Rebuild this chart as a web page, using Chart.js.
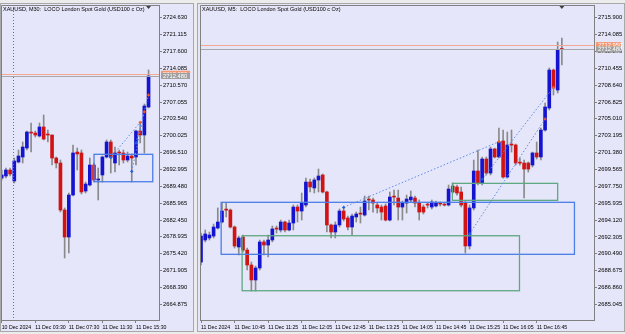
<!DOCTYPE html>
<html>
<head>
<meta charset="utf-8">
<script src="https://cdn.jsdelivr.net/npm/chart.js@4.4.1/dist/chart.umd.min.js"></script>
<style>
  body { margin: 0; background: #ececec; width: 625px; height: 334px; overflow: hidden; }
  canvas { position: absolute; top: 0; }
  #m30 { left: 0; }
  #m5 { left: 197px; }
</style>
</head>
<body>
<canvas id="m30" width="194" height="334"></canvas>
<canvas id="m5" width="428" height="334"></canvas>
<script>
// ---- XAUUSD M30 (left window) ----
const m30TickBars = [0, 8, 16, 24, 32];
const m30TickLabels = ['10 Dec 2024', '11 Dec 03:30', '11 Dec 07:30', '11 Dec 11:30', '11 Dec 15:30'];
const m30PriceTicks = [2724.630, 2721.115, 2717.600, 2714.085, 2710.570, 2707.055, 2703.540, 2700.025,
  2696.510, 2692.995, 2689.480, 2685.965, 2682.450, 2678.935, 2675.420, 2671.905, 2668.390, 2664.875];
const m30Open = [2691.21, 2691.63, 2692.88, 2690.59, 2694.55, 2695.59, 2697.47, 2700.59, 2700.59, 2699.97,
  2701.85, 2700.18, 2700.18, 2695.38, 2694.34, 2684.54, 2678.91, 2687.67, 2696.63, 2696.43,
  2688.50, 2689.75, 2693.92, 2690.80, 2691.84, 2695.59, 2698.72, 2694.34, 2696.43, 2696.43,
  2694.97, 2695.80, 2695.59, 2701.01, 2700.18, 2706.01];
const m30High = [2692.88, 2693.30, 2693.30, 2695.38, 2697.05, 2698.72, 2701.01, 2702.68, 2701.01, 2702.68,
  2704.35, 2701.22, 2700.18, 2695.59, 2694.97, 2684.96, 2688.09, 2698.09, 2697.47, 2697.05,
  2690.38, 2695.38, 2694.34, 2693.30, 2695.80, 2699.14, 2699.14, 2697.68, 2697.05, 2697.05,
  2696.63, 2696.22, 2701.22, 2702.68, 2706.64, 2713.73];
const m30Low = [2690.80, 2691.21, 2691.63, 2690.17, 2694.34, 2694.34, 2697.05, 2696.63, 2699.76, 2699.76,
  2699.14, 2698.72, 2693.92, 2693.30, 2684.13, 2674.54, 2675.58, 2687.46, 2692.88, 2687.88,
  2688.09, 2689.55, 2690.38, 2686.63, 2690.38, 2695.38, 2692.26, 2692.47, 2693.92, 2694.34,
  2694.55, 2690.38, 2693.92, 2698.51, 2696.43, 2705.81];
const m30Close = [2691.84, 2692.88, 2692.05, 2694.76, 2695.80, 2697.68, 2700.80, 2700.58, 2700.18, 2701.85,
  2699.34, 2700.17, 2695.38, 2694.34, 2684.54, 2678.91, 2687.67, 2696.43, 2696.22, 2688.30,
  2689.96, 2693.92, 2690.80, 2691.01, 2695.59, 2698.72, 2695.59, 2696.43, 2696.42, 2694.97,
  2695.80, 2695.38, 2701.01, 2700.18, 2706.22, 2712.48];
// rectangle objects: [fromBar, toBar, upperPrice, lowerPrice]
const m30Boxes = [[22, 36, 2696.15, 2690.44]];
// trades: [openBar, openPrice, closeBar, closePrice]
const m30Trades = [[26, 2695.49, 33, 2702.82], [32, 2698.50, 35, 2708.52], [31, 2692.60, 34, 2705.03]];
const m30DaySeparators = [2.75];

// ---- XAUUSD M5 (right window) ----
const m5TickBars = [0, 8, 16, 24, 32, 40, 48, 56, 64, 72, 80];
const m5TickLabels = ['11 Dec 2024', '11 Dec 10:45', '11 Dec 11:25', '11 Dec 12:05', '11 Dec 12:45', '11 Dec 13:25',
  '11 Dec 14:05', '11 Dec 14:45', '11 Dec 15:25', '11 Dec 16:05', '11 Dec 16:45'];
const m5PriceTicks = [2715.900, 2714.085, 2712.270, 2710.455, 2708.640, 2706.825, 2705.010, 2703.195, 2701.380,
  2699.565, 2697.750, 2695.935, 2694.120, 2692.305, 2690.490, 2688.675, 2686.860, 2685.045];
const m5Open = [2689.60, 2691.97, 2692.19, 2692.40, 2693.26, 2693.91, 2695.20, 2695.20, 2693.37, 2691.22,
  2692.29, 2690.89, 2689.28, 2687.67, 2688.96, 2691.76, 2691.43, 2691.97, 2693.16, 2693.05,
  2693.91, 2693.05, 2693.80, 2695.52, 2695.09, 2695.74, 2698.21, 2697.57, 2698.43, 2698.97,
  2697.14, 2693.59, 2692.83, 2693.59, 2695.09, 2694.34, 2693.37, 2694.45, 2694.77, 2694.66,
  2696.28, 2696.28, 2695.74, 2695.52, 2695.63, 2694.12, 2696.60, 2696.49, 2695.52, 2695.95,
  2696.28, 2696.49, 2695.95, 2695.52, 2695.74, 2695.52, 2695.63, 2695.85, 2695.74, 2695.74,
  2697.78, 2697.68, 2697.14, 2695.95, 2691.33, 2695.42, 2699.40, 2698.11, 2700.69, 2699.18,
  2701.77, 2700.91, 2702.63, 2698.75, 2702.20, 2702.20, 2700.26, 2700.26, 2700.26, 2700.04,
  2701.34, 2700.91, 2703.81, 2706.18, 2710.27, 2708.12, 2712.58];
const m5High = [2692.72, 2693.05, 2692.83, 2693.69, 2695.42, 2695.95, 2695.95, 2695.31, 2693.48, 2692.40,
  2692.51, 2691.11, 2689.60, 2689.17, 2691.97, 2691.97, 2692.51, 2693.48, 2693.48, 2694.12,
  2694.02, 2694.12, 2695.74, 2695.74, 2697.03, 2698.64, 2698.54, 2698.64, 2699.61, 2699.08,
  2697.25, 2693.69, 2693.91, 2695.31, 2695.52, 2694.55, 2694.77, 2694.98, 2695.52, 2696.71,
  2696.71, 2696.49, 2695.95, 2695.74, 2695.85, 2697.14, 2697.35, 2697.35, 2696.17, 2696.81,
  2697.25, 2696.71, 2696.28, 2695.74, 2695.95, 2696.28, 2696.17, 2696.06, 2695.95, 2697.89,
  2698.11, 2697.89, 2697.68, 2696.17, 2695.74, 2700.58, 2701.66, 2700.91, 2700.91, 2701.98,
  2701.87, 2704.03, 2703.81, 2703.60, 2703.81, 2702.30, 2700.80, 2700.58, 2700.37, 2701.44,
  2702.52, 2704.03, 2706.72, 2710.49, 2710.38, 2713.29, 2713.72];
const m5Low = [2689.28, 2691.76, 2691.97, 2692.19, 2693.16, 2693.80, 2694.45, 2693.26, 2691.11, 2690.36,
  2690.68, 2688.74, 2686.48, 2686.48, 2688.74, 2690.36, 2690.14, 2691.76, 2692.72, 2692.83,
  2692.83, 2692.94, 2693.05, 2693.91, 2694.12, 2695.52, 2697.14, 2697.03, 2697.14, 2697.03,
  2692.83, 2692.19, 2692.19, 2693.37, 2694.02, 2693.05, 2692.51, 2693.91, 2693.80, 2694.55,
  2695.20, 2694.98, 2694.88, 2694.12, 2694.02, 2694.02, 2695.74, 2694.12, 2694.12, 2694.88,
  2696.06, 2695.52, 2694.12, 2694.77, 2695.42, 2695.31, 2695.52, 2695.63, 2695.63, 2695.63,
  2697.03, 2696.81, 2695.52, 2690.57, 2691.00, 2695.20, 2697.89, 2697.89, 2698.97, 2698.97,
  2700.80, 2700.80, 2698.64, 2698.64, 2701.44, 2700.04, 2700.04, 2696.49, 2699.29, 2699.83,
  2700.69, 2700.58, 2703.70, 2705.97, 2707.58, 2707.80, 2710.81];
const m5Close = [2692.40, 2692.62, 2692.51, 2693.37, 2693.91, 2695.09, 2695.19, 2693.37, 2691.33, 2692.19,
  2690.89, 2689.28, 2687.67, 2688.96, 2691.76, 2691.43, 2691.97, 2693.16, 2693.15, 2693.91,
  2693.05, 2693.80, 2695.52, 2695.09, 2695.95, 2698.21, 2697.68, 2698.43, 2698.86, 2697.14,
  2693.59, 2692.83, 2693.59, 2695.09, 2694.23, 2693.37, 2694.55, 2694.77, 2694.76, 2696.17,
  2696.27, 2695.95, 2695.42, 2694.98, 2694.12, 2696.60, 2696.59, 2695.52, 2695.95, 2696.38,
  2696.60, 2695.95, 2694.98, 2694.98, 2695.73, 2696.06, 2695.95, 2695.84, 2695.73, 2697.46,
  2697.14, 2697.03, 2695.74, 2691.33, 2695.42, 2699.40, 2698.11, 2700.69, 2699.18, 2701.77,
  2700.91, 2702.52, 2698.75, 2702.20, 2702.19, 2700.26, 2700.25, 2699.61, 2699.61, 2701.34,
  2700.91, 2703.81, 2706.29, 2710.27, 2708.33, 2712.42, 2712.48];
const m5Boxes = [[4.8, 89.0, 2696.03, 2690.43], [9.8, 75.9, 2692.43, 2686.51], [59.9, 85.0, 2698.07, 2696.24]];
const m5Trades = [[34, 2695.49, 71, 2702.55], [67, 2698.50, 84, 2708.41], [64, 2692.62, 82, 2705.00]];

const bid = 2712.48;
const ask = 2712.95;

const BULL = '#1414d0', BEAR = '#d01414', WICK = '#8a8a8a';
const FONT = '"Liberation Sans", Arial, sans-serif';

function candleSets(open, high, low, close) {
  return [
    {
      data: open.map((o, i) => ({ x: i, y: [o, close[i]] })),
      backgroundColor: c => (close[c.dataIndex] >= open[c.dataIndex] ? BULL : BEAR),
      barThickness: 3, minBarLength: 1, borderWidth: 0, order: 0
    },
    {
      data: open.map((o, i) => ({ x: i, y: [low[i], high[i]] })),
      backgroundColor: WICK, barThickness: 1, borderWidth: 0, order: 1
    }
  ];
}

function makeOverlay(cfg) {
  return {
    id: 'overlay',
    beforeDraw(chart) {
      const ctx = chart.ctx;
      ctx.save();
      ctx.fillStyle = '#e6e6fa';
      ctx.fillRect(0, 0, chart.width, chart.height);
      ctx.fillStyle = '#ececec';
      ctx.fillRect(0, 0, chart.width, 4);
      ctx.fillRect(0, 332, chart.width, 2);
      ctx.strokeStyle = '#a8a8a8';
      ctx.lineWidth = 1;
      ctx.strokeRect(0.5, 3.5, chart.width - 1, 328);
      ctx.restore();
    },
    afterDatasetsDraw(chart) {
      const { ctx, chartArea: a, scales: { x, y } } = chart;
      ctx.save();
      ctx.beginPath();
      ctx.rect(a.left, a.top, a.right - a.left, a.bottom - a.top);
      ctx.clip();
      // period separators
      ctx.strokeStyle = '#707070';
      ctx.lineWidth = 1;
      ctx.setLineDash([1, 2]);
      cfg.separators.forEach(b => {
        const px = Math.round(x.getPixelForValue(b)) + 0.5;
        ctx.beginPath(); ctx.moveTo(px, a.top); ctx.lineTo(px, a.bottom); ctx.stroke();
      });
      ctx.setLineDash([]);
      // bid / ask lines
      [[ask, '#f4a890'], [bid, '#a8a8a8']].forEach(([p, col]) => {
        const py = Math.round(y.getPixelForValue(p)) + 0.5;
        ctx.strokeStyle = col;
        ctx.beginPath(); ctx.moveTo(a.left, py); ctx.lineTo(a.right, py); ctx.stroke();
      });
      // rectangles
      ctx.lineWidth = 1.3;
      cfg.boxes.forEach((b, i) => {
        ctx.strokeStyle = i === 0 ? '#4a7ee8' : '#5ea882';
        const x0 = x.getPixelForValue(b[0]), x1 = x.getPixelForValue(b[1]);
        const y0 = y.getPixelForValue(b[2]), y1 = y.getPixelForValue(b[3]);
        ctx.strokeRect(x0, y0, x1 - x0, y1 - y0);
      });
      // trade lines
      ctx.lineWidth = 1;
      ctx.strokeStyle = '#5a8ee8';
      ctx.setLineDash([1.5, 2]);
      cfg.trades.forEach(t => {
        ctx.beginPath();
        ctx.moveTo(x.getPixelForValue(t[0]), y.getPixelForValue(t[1]));
        ctx.lineTo(x.getPixelForValue(t[2]), y.getPixelForValue(t[3]));
        ctx.stroke();
      });
      ctx.setLineDash([]);
      const mark = (px, py, col) => {
        ctx.fillStyle = col;
        ctx.fillRect(px - 1.5, py - 0.5, 3, 1.2);
        ctx.fillRect(px - 0.6, py - 1.5, 1.2, 3);
      };
      cfg.trades.forEach(t => {
        mark(x.getPixelForValue(t[0]), y.getPixelForValue(t[1]), '#1e5ee0');
        mark(x.getPixelForValue(t[2]), y.getPixelForValue(t[3]), '#f05a28');
      });
      ctx.restore();
    },
    afterDraw(chart) {
      const { ctx, chartArea: a, scales: { x, y } } = chart;
      ctx.save();
      // frame top / left
      ctx.strokeStyle = '#808080';
      ctx.lineWidth = 1;
      ctx.beginPath();
      ctx.moveTo(a.left + 0.5, a.bottom); ctx.lineTo(a.left + 0.5, a.top + 0.5); ctx.lineTo(a.right, a.top + 0.5);
      ctx.stroke();
      // title
      ctx.fillStyle = '#000';
      ctx.font = '5.5px ' + FONT;
      ctx.textBaseline = 'middle';
      ctx.fillText(cfg.title, a.left + 2, 9);
      // chart shift marker
      const sx = x.getPixelForValue(cfg.lastBar);
      ctx.fillStyle = '#404040';
      ctx.beginPath();
      ctx.moveTo(sx - 2.5, a.top + 1); ctx.lineTo(sx + 2.5, a.top + 1); ctx.lineTo(sx, a.top + 4);
      ctx.fill();
      // price tags on the axis
      const lx = a.right + 2, lw = chart.width - a.right - 6;
      ctx.font = '5.8px ' + FONT;
      [[ask, '#f4966e'], [bid, '#a0a0a0']].forEach(([p, col]) => {
        const py = y.getPixelForValue(p);
        ctx.fillStyle = col;
        ctx.fillRect(lx, py - 3, lw, 6);
        ctx.fillStyle = '#fff';
        ctx.fillText(p.toFixed(3), lx + 2, py + 0.3);
      });
      ctx.restore();
    }
  };
}

function makeChart(id, cfg) {
  return new Chart(document.getElementById(id), {
    type: 'bar',
    data: { datasets: candleSets(cfg.open, cfg.high, cfg.low, cfg.close) },
    options: {
      responsive: false,
      animation: false,
      layout: { padding: { left: cfg.padLeft, top: 5, right: 0, bottom: 0 } },
      plugins: { legend: { display: false }, tooltip: { enabled: false } },
      datasets: { bar: { grouped: false } },
      scales: {
        x: {
          type: 'linear', min: cfg.xMin, max: cfg.xMax, offset: false,
          afterBuildTicks: s => { s.ticks = cfg.tickBars.map(v => ({ value: v })); },
          afterFit: s => { s.height = 14; s.paddingLeft = 0; s.paddingRight = 0; },
          ticks: {
            autoSkip: false, maxRotation: 0, minRotation: 0, align: 'start', padding: 1,
            font: { family: FONT, size: 5.2 }, color: '#000',
            callback: (v, i) => cfg.tickLabels[i]
          },
          grid: { offset: false, drawOnChartArea: false, tickLength: 3, color: '#808080' },
          border: { color: '#808080' }
        },
        y: {
          position: 'right', min: cfg.yMin, max: cfg.yMax,
          afterBuildTicks: s => { s.ticks = cfg.priceTicks.map(v => ({ value: v })); },
          afterFit: s => { s.width = cfg.axisWidth; s.paddingTop = 0; s.paddingBottom = 0; },
          ticks: {
            autoSkip: false, padding: 1, font: { family: FONT, size: 5.8 }, color: '#000',
            callback: v => v.toFixed(3)
          },
          grid: { drawOnChartArea: false, tickLength: 3, color: '#808080' },
          border: { color: '#808080' }
        }
      }
    },
    plugins: [makeOverlay(cfg)]
  });
}

makeChart('m30', {
  open: m30Open, high: m30High, low: m30Low, close: m30Close,
  tickBars: m30TickBars, tickLabels: m30TickLabels, priceTicks: m30PriceTicks,
  boxes: m30Boxes, trades: m30Trades, separators: m30DaySeparators,
  title: 'XAUUSD, M30:  LOCO London Spot Gold (USD100 c Oz)', lastBar: m30Open.length - 1,
  padLeft: 1, axisWidth: 35, xMin: -0.17, xMax: 37.49, yMin: 2661.61, yMax: 2727.28
});

makeChart('m5', {
  open: m5Open, high: m5High, low: m5Low, close: m5Close,
  tickBars: m5TickBars, tickLabels: m5TickLabels, priceTicks: m5PriceTicks,
  boxes: m5Boxes, trades: m5Trades, separators: [],
  title: 'XAUUSD, M5:  LOCO London Spot Gold (USD100 c Oz)', lastBar: m5Open.length - 1,
  padLeft: 3, axisWidth: 31, xMin: -0.24, xMax: 93.66, yMin: 2683.36, yMax: 2717.27
});
</script>
</body>
</html>
